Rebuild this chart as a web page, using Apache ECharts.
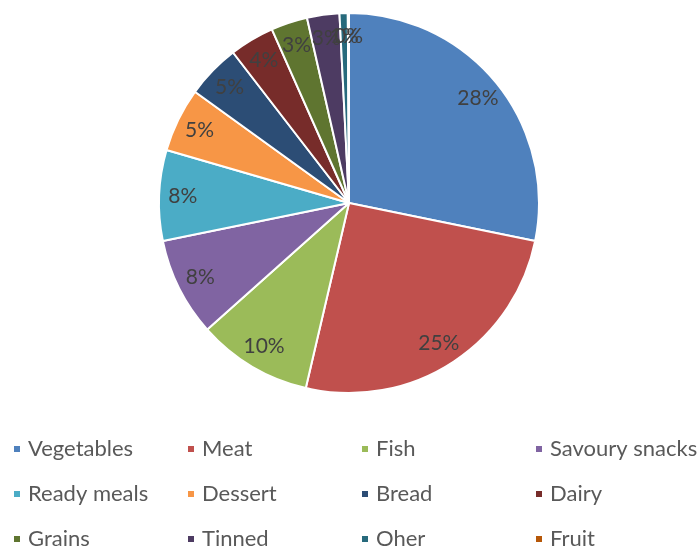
<!DOCTYPE html>
<html>
<head>
<meta charset="utf-8">
<script src="https://cdn.jsdelivr.net/npm/echarts@6/dist/echarts.min.js"></script>
<style>
  html, body { margin: 0; padding: 0; background: #fff; }
  #chart { width: 698px; height: 549px; }
</style>
</head>
<body>
<div id="chart"></div>
<script>
// Food waste share by category
const categories = ['Vegetables', 'Meat', 'Fish', 'Savoury snacks', 'Ready meals', 'Dessert',
                    'Bread', 'Dairy', 'Grains', 'Tinned', 'Oher', 'Fruit'];
const shares = [28.2, 25.45, 9.75, 8.4, 7.7, 5.45, 4.6, 3.8, 3.1, 2.75, 0.7, 0.1];
const colors = ['#4F81BD', '#C0504D', '#9BBB59', '#8064A2', '#4BACC6', '#F79646',
                '#2C4D75', '#772C2A', '#5F7530', '#4D3B62', '#276A7C', '#B65708'];

const pieData = categories.map((name, i) => ({
  name: name,
  value: shares[i],
  itemStyle: { color: colors[i] }
}));

const center = [349, 203];
const R = 190;
const labelFont = { fontFamily: 'Lato', fontSize: 21, color: '#404040' };

// legend: three rows of four, with fixed-width cells so the columns line up
const legendRows = [0, 1, 2].map(r => categories.slice(r * 4, r * 4 + 4));
const legendRowTop = [438, 483, 528];
const legends = legendRows.map((names, r) => ({
  orient: 'horizontal',
  left: 12,
  top: legendRowTop[r],
  width: 720,
  padding: 0,
  data: names,
  icon: 'rect',
  itemWidth: 8,
  itemHeight: 8,
  itemGap: 18,
  selectedMode: false,
  textStyle: {
    fontFamily: 'Lato', fontSize: 22, color: '#595959', lineHeight: 20,
    width: 140, overflow: 'none', padding: [0, 0, 0, 2]
  }
}));

const chart = echarts.init(document.getElementById('chart'), null, { renderer: 'canvas' });
chart.setOption({
  animation: false,
  legend: legends,
  series: [
    {
      type: 'pie',
      center: center,
      radius: [0, R],
      startAngle: 90,
      clockwise: true,
      data: pieData,
      label: { show: false },
      labelLine: { show: false },
      itemStyle: { borderColor: '#ffffff', borderWidth: 2 },
      silent: true
    },
    {
      // transparent ring that positions the percent labels near the rim
      type: 'pie',
      center: center,
      radius: [R * 0.72, R],
      startAngle: 90,
      clockwise: true,
      avoidLabelOverlap: false,
      data: pieData.map(d => ({ name: d.name, value: d.value })),
      itemStyle: { color: 'rgba(0,0,0,0)' },
      label: {
        show: true,
        position: 'inside',
        formatter: p => Math.round(p.percent) + '%',
        ...labelFont
      },
      labelLayout: { hideOverlap: false },
      labelLine: { show: false },
      silent: true
    }
  ]
});
</script>
</body>
</html>
